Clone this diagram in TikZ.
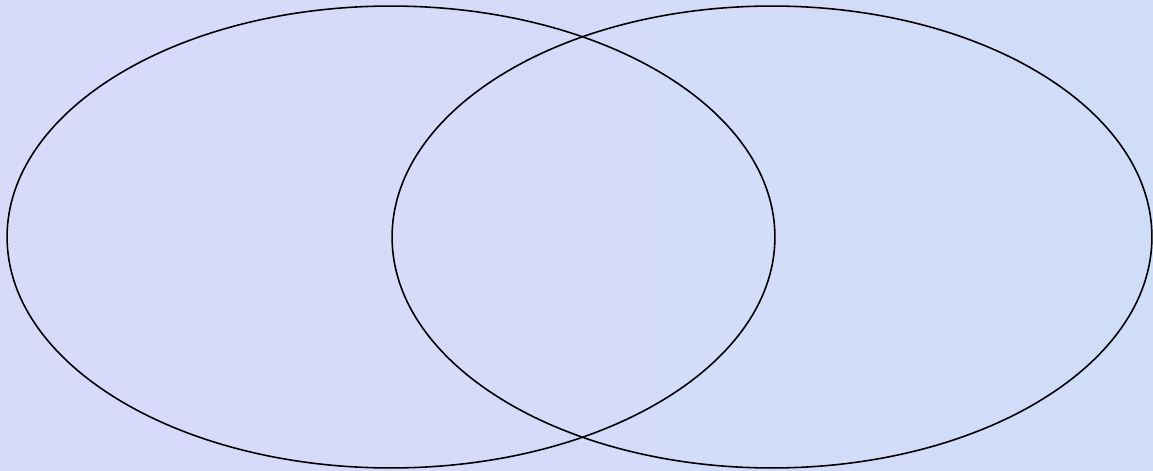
\documentclass[tikz,border=0pt]{standalone}
\usepackage{tikz}
\usetikzlibrary{positioning,shapes.geometric}

\definecolor{bgblue}{RGB}{208,221,248}
\definecolor{bglav}{RGB}{216,218,250}

\begin{document}
\begin{tikzpicture}[
  x=0.02cm, y=-0.02cm,
  setring/.style={ellipse, draw=black, line width=0.9pt, inner sep=0pt, minimum height=9.24cm}
]

\fill[left color=bglav, right color=bgblue] (0,0) rectangle (1153,470);
\useasboundingbox (0,0) rectangle (1153,470);

\node[setring, minimum width=15.36cm] (setA) at (391,237) {};
\node[setring, minimum width=15.2cm] (setB) at (772,237) {};

\end{tikzpicture}
\end{document}
